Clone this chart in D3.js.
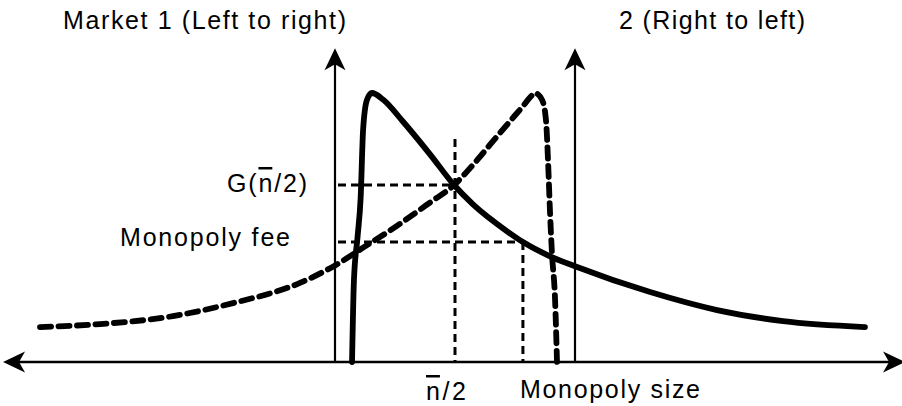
<!DOCTYPE html>
<html>
<head>
<meta charset="utf-8">
<script src="https://cdn.jsdelivr.net/npm/d3@7/dist/d3.min.js"></script>
<style>
  body { margin: 0; background: #fff; }
  text { font-family: "Liberation Sans", Arial, sans-serif; font-size: 25px; fill: #000; }
  .bar { text-decoration: overline; }
</style>
</head>
<body>
<div id="chart"></div>
<script>

// market 1, read left to right (solid curve)
let market1Size  = [7.1, 7.9, 9.4, 10.7, 11.7, 13.3, 15.4, 20, 28.3, 39.6, 49.6, 57.5, 71.7, 78.3, 89.6, 100, 131.3, 159.2, 186.7, 220.8];
let market1Value = [0, 30.5, 46.5, 61.3, 86.2, 97.4, 100, 97.6, 89.4, 77.2, 65.8, 58.6, 48.6, 44.6, 39.3, 35.6, 26, 19.3, 15.2, 13];

// market 2, read right to left (dashed curve)
let market2Size  = [-122.9, -97.9, -70, -42.5, -14.6, 0.4, 11.7, 25.8, 39.6, 49.6, 57.5, 64.6, 72.9, 78.5, 81.5, 83.3, 86.3, 87.9, 88.8, 89.6, 90.4, 91.7, 92.5];
let market2Value = [13, 14.1, 16.7, 21.9, 29.4, 36.1, 42.5, 50.6, 59.3, 65.8, 73.3, 80.8, 89.5, 95.3, 98.6, 100, 97.4, 90, 74, 55.4, 40.5, 23, 0];

// guide values
let halfSize = 50;      // n/2
let monoSize = 78.3;    // monopoly size
let gHalf = 65.8;       // G(n/2)
let monoFee = 44.6;     // monopoly fee
let halfTop = 82.9;     // top of the n/2 guide

// axes: two vertical axes (market 1 at 0, market 2 at 100) and the size line
let axisSizes = [0, 100];
let axisTop = 114;
let sizeRange = [-135.4, 234.6];

let width = 902,
    height = 406;

let x = d3.scaleLinear().domain([0, 100]).range([335, 575]);
let y = d3.scaleLinear().domain([0, 100]).range([362, 93]);

let svg = d3.select("#chart").append("svg")
    .attr("width", width)
    .attr("height", height);

let defs = svg.append("defs");
defs.append("marker")
    .attr("id", "arrow")
    .attr("viewBox", "-22 -11 32 22")
    .attr("refX", -7)
    .attr("refY", 0)
    .attr("markerWidth", 32)
    .attr("markerHeight", 22)
    .attr("markerUnits", "userSpaceOnUse")
    .attr("orient", "auto-start-reverse")
  .append("path")
    .attr("d", "M7,0 L-15,-10.5 L-9,0 L-15,10.5 Z")
    .attr("fill", "#000");

// horizontal size line, arrows on both ends
svg.append("line")
    .attr("x1", x(sizeRange[0]) + 7)
    .attr("x2", x(sizeRange[1]) - 7)
    .attr("y1", y(0))
    .attr("y2", y(0))
    .attr("stroke", "#000")
    .attr("stroke-width", 2.5)
    .attr("marker-start", "url(#arrow)")
    .attr("marker-end", "url(#arrow)");

// vertical axes
svg.selectAll(".vaxis")
    .data(axisSizes)
    .enter()
    .append("line")
    .attr("class", "vaxis")
    .attr("x1", d => x(d))
    .attr("x2", d => x(d))
    .attr("y1", y(0))
    .attr("y2", y(axisTop) + 7)
    .attr("stroke", "#000")
    .attr("stroke-width", 2.2)
    .attr("marker-end", "url(#arrow)");

// dashed guides
let guides = [
    [[0, gHalf], [halfSize, gHalf]],
    [[halfSize, halfTop], [halfSize, 0]],
    [[0, monoFee], [monoSize, monoFee]],
    [[monoSize, monoFee], [monoSize, 0]]
];
svg.selectAll(".guide")
    .data(guides)
    .enter()
    .append("line")
    .attr("class", "guide")
    .attr("x1", d => x(d[0][0]) + (d[0][0] == 0 ? 3 : 0))
    .attr("y1", d => y(d[0][1]))
    .attr("x2", d => x(d[1][0]))
    .attr("y2", d => y(d[1][1]))
    .attr("stroke", "#000")
    .attr("stroke-width", 3)
    .attr("stroke-dasharray", "8,5");

let line = d3.line()
    .x(d => x(d[0]))
    .y(d => y(d[1]))
    .curve(d3.curveMonotoneX);

let market1 = market1Size.map((s, i) => [s, market1Value[i]]);
let market2 = market2Size.map((s, i) => [s, market2Value[i]]);

svg.append("path")
    .attr("d", line(market2))
    .attr("fill", "none")
    .attr("stroke", "#000")
    .attr("stroke-width", 5.8)
    .attr("stroke-linecap", "round")
    .attr("stroke-linejoin", "round")
    .attr("stroke-dasharray", "11,7.5");

svg.append("path")
    .attr("d", line(market1))
    .attr("fill", "none")
    .attr("stroke", "#000")
    .attr("stroke-width", 5.8)
    .attr("stroke-linecap", "round")
    .attr("stroke-linejoin", "round");

// labels; parts marked bar get the overline (n bar)
let labels = [
    {parts: [["Market 1 (Left to right)", 0]], x: 63, y: 29, len: 283},
    {parts: [["2 (Right to left)", 0]], x: 619, y: 29, len: 186},
    {parts: [["G(", 0], ["n", 1], ["/2)", 0]], x: 227, y: y(gHalf) + 7, len: 80},
    {parts: [["Monopoly fee", 0]], x: 120, y: y(monoFee) + 4, len: 170},
    {parts: [["n", 1], ["/2", 0]], x: 426, y: 400, len: 40},
    {parts: [["Monopoly size", 0]], x: 520, y: 398, len: 180}
];
let texts = svg.selectAll(".label")
    .data(labels)
    .enter()
    .append("text")
    .attr("class", "label")
    .attr("x", d => d.x)
    .attr("y", d => d.y)
    .attr("textLength", d => d.len)
    .attr("lengthAdjust", "spacing");

texts.selectAll("tspan")
    .data(d => d.parts)
    .enter()
    .append("tspan")
    .attr("class", d => d[1] ? "bar" : null)
    .text(d => d[0]);

</script>
</body>
</html>
